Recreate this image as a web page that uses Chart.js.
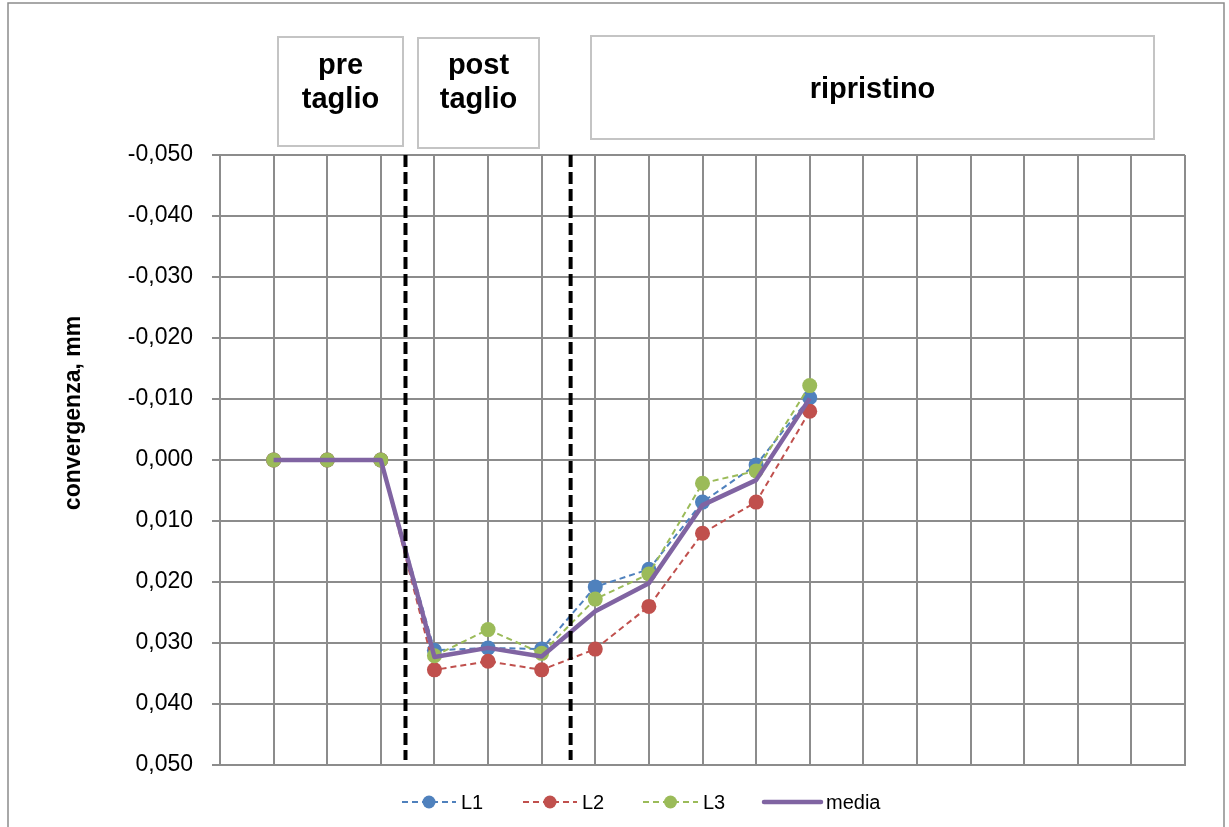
<!DOCTYPE html>
<html>
<head>
<meta charset="utf-8">
<script src="https://cdn.jsdelivr.net/npm/chart.js@4.4.0/dist/chart.umd.min.js"></script>
<style>
  html, body { margin: 0; padding: 0; background: #fff; }
  #wrap { width: 1229px; height: 827px; position: relative; }
</style>
</head>
<body>
<div id="wrap"><canvas id="myChart" width="1229" height="827"></canvas></div>
<script>
// reading index (1..11) on a 0..18 axis
const steps = [1, 2, 3, 4, 5, 6, 7, 8, 9, 10, 11];
const L1 = [0, 0, 0, 0.0312, 0.0308, 0.0310, 0.0208, 0.0179, 0.0069, 0.0008, -0.0102];
const L2 = [0, 0, 0, 0.0344, 0.0330, 0.0344, 0.0310, 0.0240, 0.0120, 0.0069, -0.0080];
const L3 = [0, 0, 0, 0.0321, 0.0278, 0.0317, 0.0228, 0.0187, 0.0038, 0.0018, -0.0122];
const media = [0, 0, 0, 0.0323, 0.0308, 0.0322, 0.0248, 0.0202, 0.0074, 0.0033, -0.0101];
const yTicks = [-0.05, -0.04, -0.03, -0.02, -0.01, 0, 0.01, 0.02, 0.03, 0.04, 0.05];
// phase separators (x position on the reading axis)
const cutPre = 3.46;
const cutPost = 6.54;
const phases = ['pre\ntaglio', 'post\ntaglio', 'ripristino'];

const pts = arr => arr.map((v, i) => ({x: steps[i], y: v}));
const vline = x => [{x: x, y: yTicks[0]}, {x: x, y: 0.0492}];

const fmt = v => (Math.abs(v) < 1e-9 ? 0 : v).toFixed(3).replace('.', ',');

// text boxes, outer border, y title and excel-like legend
const decor = {
  id: 'decor',
  beforeDraw(chart) {
    const ctx = chart.ctx;
    ctx.save();
    ctx.fillStyle = '#fff';
    ctx.fillRect(0, 0, chart.width, chart.height);
    ctx.strokeStyle = '#8c8c8c';
    ctx.lineWidth = 1.5;
    ctx.beginPath();
    ctx.moveTo(8, 840); ctx.lineTo(8, 3); ctx.lineTo(1224, 3); ctx.lineTo(1224, 840);
    ctx.stroke();
    ctx.restore();
  },
  afterDraw(chart) {
    const ctx = chart.ctx;
    ctx.save();
    // phase boxes
    const boxes = [[278, 37, 125, 109], [418, 38, 121, 110], [591, 36, 563, 103]];
    ctx.strokeStyle = '#c4c4c4';
    ctx.lineWidth = 2;
    ctx.fillStyle = '#000';
    ctx.font = 'bold 29px "Liberation Sans", Arial, sans-serif';
    ctx.textAlign = 'center';
    ctx.textBaseline = 'alphabetic';
    boxes.forEach((b, i) => {
      ctx.strokeRect(b[0], b[1], b[2], b[3]);
      const lines = phases[i].split('\n');
      const cx = b[0] + b[2] / 2;
      if (lines.length === 2) {
        ctx.fillText(lines[0], cx, 74);
        ctx.fillText(lines[1], cx, 108);
      } else {
        ctx.fillText(lines[0], cx, 98);
      }
    });
    // y axis title
    ctx.translate(80, 413);
    ctx.rotate(-Math.PI / 2);
    ctx.font = 'bold 23px "Liberation Sans", Arial, sans-serif';
    ctx.fillText('convergenza, mm', 0, 0);
    ctx.setTransform(1, 0, 0, 1, 0, 0);
    // legend
    const items = [[402, 456], [523, 577], [643, 698], [764, 821]];
    const y = 802;
    chart.data.datasets.slice(0, 4).forEach((ds, i) => {
      const [x0, x1] = items[i];
      ctx.strokeStyle = ds.borderColor;
      ctx.lineWidth = ds.borderWidth;
      ctx.setLineDash(ds.borderDash || []);
      ctx.lineCap = i === 3 ? 'round' : 'butt';
      ctx.beginPath();
      ctx.moveTo(x0, y); ctx.lineTo(x1, y);
      ctx.stroke();
      ctx.setLineDash([]);
      if (ds.pointRadius > 0) {
        ctx.fillStyle = ds.pointBackgroundColor;
        ctx.beginPath();
        ctx.arc((x0 + x1) / 2, y, 6.5, 0, Math.PI * 2);
        ctx.fill();
      }
      ctx.fillStyle = '#000';
      ctx.font = '20px "Liberation Sans", Arial, sans-serif';
      ctx.textAlign = 'left';
      ctx.textBaseline = 'middle';
      ctx.fillText(ds.label, x1 + 5, y + 1);
    });
    ctx.restore();
  }
};

const ch = document.getElementById('myChart');

new Chart(ch, {
  type: 'line',
  data: {
    datasets: [
      {
        label: 'L1', data: pts(L1), order: 3,
        borderColor: '#4F81BD', borderWidth: 2, borderDash: [6, 4],
        pointRadius: 7.5, pointBackgroundColor: '#4F81BD', pointBorderWidth: 0
      },
      {
        label: 'L2', data: pts(L2), order: 2,
        borderColor: '#C0504D', borderWidth: 2, borderDash: [6, 4],
        pointRadius: 7.5, pointBackgroundColor: '#C0504D', pointBorderWidth: 0
      },
      {
        label: 'L3', data: pts(L3), order: 1,
        borderColor: '#9BBB59', borderWidth: 2, borderDash: [6, 4],
        pointRadius: 7.5, pointBackgroundColor: '#9BBB59', pointBorderWidth: 0
      },
      {
        label: 'media', data: pts(media), order: 0,
        borderColor: '#8064A2', borderWidth: 4.5,
        pointRadius: 0, borderJoinStyle: 'round'
      },
      {
        label: 'cut1', data: vline(cutPre), order: -1,
        borderColor: '#000', borderWidth: 4, borderDash: [12, 5], pointRadius: 0
      },
      {
        label: 'cut2', data: vline(cutPost), order: -1,
        borderColor: '#000', borderWidth: 4, borderDash: [12, 5], pointRadius: 0
      }
    ]
  },
  options: {
    responsive: false,
    animation: false,
    devicePixelRatio: 1,
    layout: { padding: { top: 155, right: 44, bottom: 62, left: 0 } },
    plugins: {
      legend: { display: false },
      tooltip: { enabled: false }
    },
    scales: {
      x: {
        type: 'linear',
        min: 0, max: 18,
        ticks: { display: false, stepSize: 1 },
        grid: { color: '#8c8c8c', lineWidth: 2, drawTicks: false },
        border: { color: '#8c8c8c', width: 2 }
      },
      y: {
        reverse: true,
        min: yTicks[0], max: yTicks[yTicks.length - 1],
        afterFit: s => { s.width = 220; },
        afterBuildTicks: s => { s.ticks = yTicks.map(v => ({value: v})); },
        ticks: {
          padding: 19,
          color: '#000',
          font: { family: '"Liberation Sans", Arial, sans-serif', size: 23 },
          callback: v => fmt(v)
        },
        grid: { color: '#8c8c8c', lineWidth: 2, tickLength: 8 },
        border: { color: '#8c8c8c', width: 2 }
      }
    }
  },
  plugins: [decor]
});
</script>
</body>
</html>
